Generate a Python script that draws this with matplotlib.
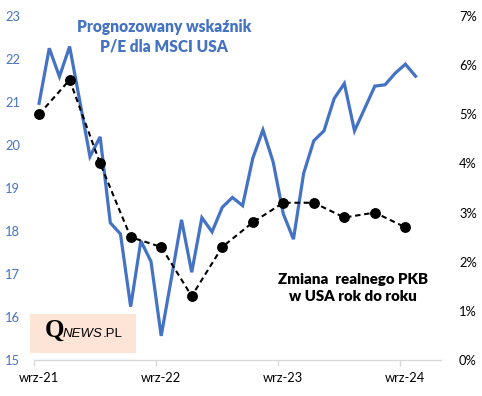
import matplotlib
matplotlib.use("Agg")
import matplotlib.pyplot as plt
from matplotlib.patches import Rectangle
from matplotlib.ticker import FuncFormatter

# ----------------------------------------------------------------------
# Data (monthly, wrz-21 .. paź-24)
# ----------------------------------------------------------------------
pe_values = [
    20.97, 22.25, 21.59, 22.29, 21.02, 19.73, 20.19, 18.19, 17.93, 16.24,
    17.77, 17.29, 15.56, 16.90, 18.26, 17.04, 18.31, 17.98, 18.55, 18.78,
    18.59, 19.69, 20.35, 19.61, 18.40, 17.81, 19.34, 20.10, 20.33, 21.08,
    21.43, 20.33, 20.85, 21.37, 21.40, 21.67, 21.88, 21.60,
]

# quarterly real GDP change y/y, placed on the same monthly axis
gdp_months = [0, 3, 6, 9, 12, 15, 18, 21, 24, 27, 30, 33, 36]
gdp_values = [5.0, 5.7, 4.0, 2.5, 2.3, 1.3, 2.3, 2.8, 3.2, 3.2, 2.9, 3.0, 2.7]

x_label_pos = [0, 12, 24, 36]
x_labels = ["wrz-21", "wrz-22", "wrz-23", "wrz-24"]

BLUE = "#4472C4"
FONT = "Lato"

# ----------------------------------------------------------------------
# Figure
# ----------------------------------------------------------------------
fig = plt.figure(figsize=(4.82, 3.96), dpi=100)
ax = fig.add_axes([34 / 482, 1 - 360 / 396, (441 - 34) / 482, (360 - 16) / 396])
ax2 = ax.twinx()

months = list(range(len(pe_values)))
ax.plot(months, pe_values, color=BLUE, lw=2.3, solid_joinstyle="miter")
ax2.plot(gdp_months, [v / 100 for v in gdp_values], color="black", lw=1.5,
         ls=(0, (2.6, 1.8)), marker="o", markersize=6.8)

ax.set_xlim(-0.5, 39.5)
ax.set_ylim(15, 23)
ax2.set_ylim(0, 0.07)

for a in (ax, ax2):
    for side in ["top", "left", "right"]:
        a.spines[side].set_visible(False)
ax2.spines["bottom"].set_visible(False)
ax.spines["bottom"].set_color("#D9D9D9")
ax.spines["bottom"].set_linewidth(1.0)

ax.set_xticks(x_label_pos)
ax.set_xticklabels(x_labels, fontsize=9.3, family=FONT, color="black")
ax.set_xticks([-0.5, 11.5, 23.5, 35.5], minor=True)
ax.tick_params(axis="x", which="major", length=0, pad=9)
ax.tick_params(axis="x", which="minor", length=4, color="#D9D9D9", width=1.0)

ax.set_yticks(range(15, 24))
ax.tick_params(axis="y", length=0, pad=10, labelsize=9.3, labelcolor=BLUE)
for lab in ax.get_yticklabels():
    lab.set_family(FONT)

ax2.set_yticks([i / 100 for i in range(0, 8)])
ax2.yaxis.set_major_formatter(FuncFormatter(lambda v, _: f"{v * 100:.0f}%"))
ax2.tick_params(axis="y", length=0, pad=13, labelsize=9.3, labelcolor="black")
for lab in ax2.get_yticklabels():
    lab.set_family(FONT)

# ----------------------------------------------------------------------
# Annotations
# ----------------------------------------------------------------------
def fig_xy(px, py):
    return px / 482, 1 - py / 396

fig.text(*fig_xy(164, 37), "Prognozowany wskaźnik\nP/E dla MSCI USA",
         ha="center", va="center", fontsize=11.2, fontweight="heavy",
         color=BLUE, family=FONT, linespacing=1.3)

fig.text(*fig_xy(353, 288), "Zmiana  realnego PKB\nw USA rok do roku",
         ha="center", va="center", fontsize=10.8, fontweight="heavy",
         color="black", family=FONT, linespacing=1.35)

# QNEWS.PL logo box
box = Rectangle(fig_xy(30, 353), 106 / 482, 39 / 396, transform=fig.transFigure,
                facecolor="#FCE4D6", edgecolor="none", zorder=5)
fig.add_artist(box)
q = fig.text(*fig_xy(45, 337), "Q", ha="left", va="baseline", fontsize=18,
             family="Liberation Serif", fontweight="bold", color="black", zorder=6)
news = fig.text(*fig_xy(63, 337), "NEWS", ha="left", va="baseline", fontsize=9.5,
                style="italic", family="Liberation Sans", color="black", zorder=6)
fig.canvas.draw()
bb = news.get_window_extent()
fig.text(bb.x1 / 482 - 0.001, 1 - 337 / 396, ".PL", ha="left", va="baseline",
         fontsize=9.5, family="Liberation Sans", color="black", zorder=6)

fig.savefig("out.png", dpi=100)
